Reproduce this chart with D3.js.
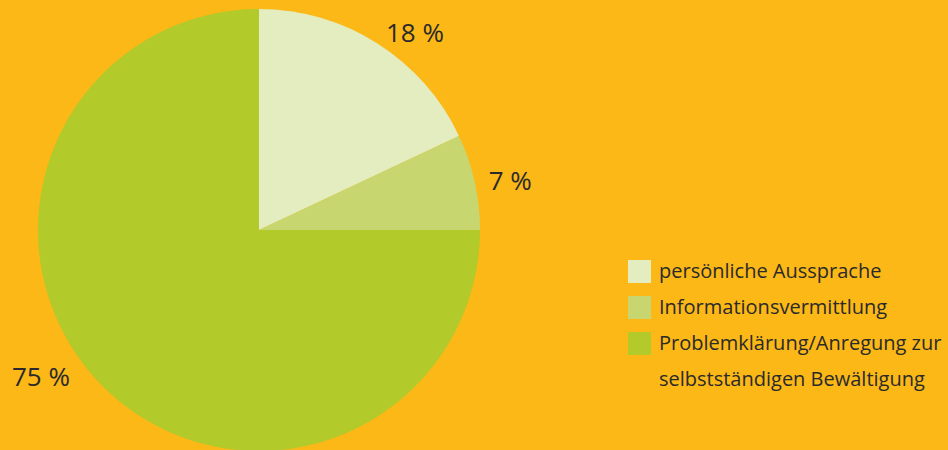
<!DOCTYPE html>
<html>
<head>
<meta charset="utf-8">
<script src="https://cdn.jsdelivr.net/npm/d3@7"></script>
<style>
  html, body { margin: 0; padding: 0; background: #fbb817; }
  svg { display: block; font-family: "Open Sans", sans-serif; }
</style>
</head>
<body>
<svg id="chart" width="948" height="450"></svg>
<script>
const categories = ["persönliche Aussprache", "Informationsvermittlung", "Problemklärung/Anregung zur selbstständigen Bewältigung"];
const legendLines = [["persönliche Aussprache"], ["Informationsvermittlung"], ["Problemklärung/Anregung zur", "selbstständigen Bewältigung"]];
const values = [18, 7, 75];
const colors = ["#e4edc0", "#c7d66f", "#b2ca2a"];

const width = 948, height = 450;
const cx = 259, cy = 230, radius = 221;

const svg = d3.select("#chart");
svg.append("rect").attr("width", width).attr("height", height).attr("fill", "#fbb817");

const color = d3.scaleOrdinal(categories, colors);
const pie = d3.pie().sort(null).value((d, i) => values[i]);
const arcs = pie(categories);
const arc = d3.arc().innerRadius(0).outerRadius(radius);

const g = svg.append("g").attr("transform", `translate(${cx},${cy})`);
g.selectAll("path")
  .data(arcs)
  .join("path")
  .attr("d", arc)
  .attr("fill", d => color(d.data));

// percentage labels, placed outside the pie (angle tweak per label, in degrees)
const labelAngle = [38.4, 79, 236];
const labelRadius = [251, 256, 263];
g.selectAll("text.pct")
  .data(arcs)
  .join("text")
  .attr("class", "pct")
  .attr("x", (d, i) => labelRadius[i] * Math.sin(labelAngle[i] * Math.PI / 180))
  .attr("y", (d, i) => -labelRadius[i] * Math.cos(labelAngle[i] * Math.PI / 180))
  .attr("text-anchor", "middle")
  .attr("dy", "0.35em")
  .attr("font-size", 26)
  .attr("fill", "#2a2a2a")
  .text((d, i) => `${values[i]} %`);

// legend
const legend = svg.append("g").attr("transform", "translate(628,260)");
const item = legend.selectAll("g")
  .data(categories)
  .join("g")
  .attr("transform", (d, i) => `translate(0,${i * 36})`);
item.append("rect")
  .attr("width", 23)
  .attr("height", 23)
  .attr("fill", d => color(d));
item.append("text")
  .attr("x", 31)
  .attr("y", 18)
  .attr("font-size", 20)
  .attr("fill", "#2a2a2a")
  .selectAll("tspan")
  .data((d, i) => legendLines[i])
  .join("tspan")
  .attr("x", 31)
  .attr("dy", (d, j) => j ? 36 : 0)
  .text(d => d);
</script>
</body>
</html>
